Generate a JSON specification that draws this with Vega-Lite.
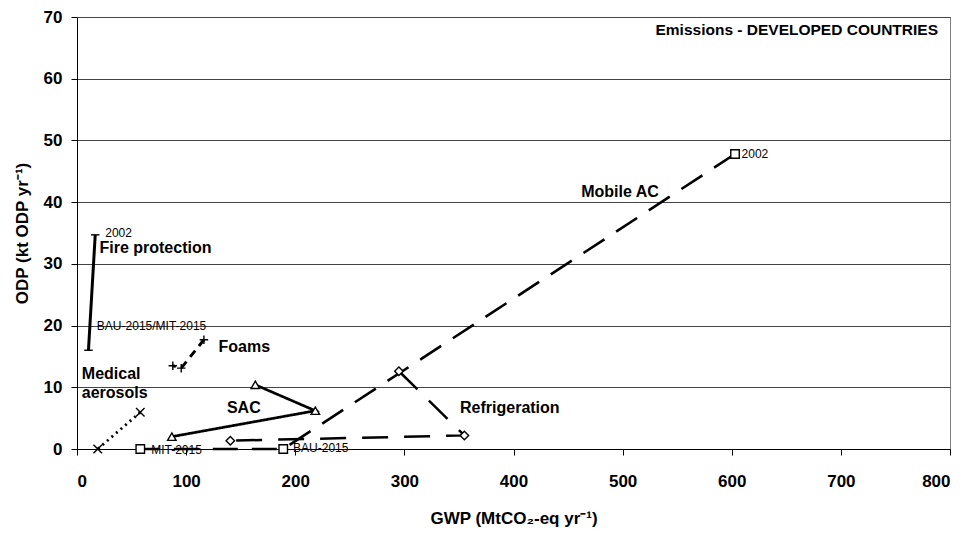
{
  "$schema": "https://vega.github.io/schema/vega-lite/v6.json",
  "autosize": "none",
  "width": 873,
  "height": 432,
  "padding": {"left": 77, "top": 17, "right": 21, "bottom": 84},
  "background": "white",
  "config": {
    "view": {"stroke": "#808080", "strokeWidth": 1},
    "font": "Liberation Sans",
    "axis": {
      "labelFont": "Liberation Sans", "labelFontSize": 17, "labelFontWeight": "bold", "labelColor": "black",
      "titleFont": "Liberation Sans", "titleFontSize": 17, "titleFontWeight": "bold", "titleColor": "black",
      "domainColor": "black", "tickColor": "black", "tickSize": 6
    }
  },
  "datasets": {
    "pts": [
      {"series": "Fire protection", "ord": 1, "gwp": 16.7, "odp": 34.7},
      {"series": "Fire protection", "ord": 2, "gwp": 10.5, "odp": 16.0},
      {"series": "Foams", "ord": 1, "gwp": 116.3, "odp": 17.7},
      {"series": "Foams", "ord": 2, "gwp": 95.5, "odp": 13.1},
      {"series": "Foams", "ord": 3, "gwp": 87.8, "odp": 13.5},
      {"series": "Medical aerosols", "ord": 1, "gwp": 58, "odp": 5.95},
      {"series": "Medical aerosols", "ord": 2, "gwp": 19, "odp": 0},
      {"series": "SAC", "ord": 1, "gwp": 163.4, "odp": 10.4},
      {"series": "SAC", "ord": 2, "gwp": 218.4, "odp": 6.2},
      {"series": "SAC", "ord": 3, "gwp": 86.9, "odp": 2.0},
      {"series": "Mobile AC", "ord": 1, "gwp": 603, "odp": 47.8},
      {"series": "Mobile AC", "ord": 2, "gwp": 189, "odp": 0},
      {"series": "Mobile AC", "ord": 3, "gwp": 58, "odp": 0},
      {"series": "Refrigeration", "ord": 1, "gwp": 295, "odp": 12.6},
      {"series": "Refrigeration", "ord": 2, "gwp": 355, "odp": 2.2},
      {"series": "Refrigeration", "ord": 3, "gwp": 140.5, "odp": 1.35}
    ],
    "labels": [
      {"text": "Emissions - DEVELOPED COUNTRIES", "kind": "title", "gwp": 789, "odp": 67.9},
      {"text": "Fire protection", "kind": "bold", "gwp": 20.6, "odp": 32.5},
      {"text": "Foams", "kind": "bold", "gwp": 129.7, "odp": 16.5},
      {"text": "Medical", "kind": "bold", "gwp": 4.4, "odp": 12.15},
      {"text": "aerosols", "kind": "bold", "gwp": 4.4, "odp": 9.0},
      {"text": "SAC", "kind": "bold", "gwp": 137.4, "odp": 6.6},
      {"text": "Mobile AC", "kind": "bold", "gwp": 462, "odp": 41.7},
      {"text": "Refrigeration", "kind": "bold", "gwp": 351, "odp": 6.7},
      {"text": "2002", "kind": "small", "gwp": 25.9, "odp": 35.0},
      {"text": "BAU-2015/MIT-2015", "kind": "small", "gwp": 18.2, "odp": 19.9},
      {"text": "MIT-2015", "kind": "small", "gwp": 68, "odp": -0.1},
      {"text": "BAU-2015", "kind": "small", "gwp": 198, "odp": 0.1},
      {"text": "2002", "kind": "small", "gwp": 609, "odp": 47.8}
    ]
  },
  "encoding": {
    "x": {"field": "gwp", "type": "quantitative", "scale": {"domain": [0, 800], "nice": false},
      "axis": {"values": [0, 100, 200, 300, 400, 500, 600, 700, 800], "grid": false, "labelPadding": 18, "titlePadding": 21,
        "title": "GWP (MtCO₂-eq yr⁻¹)"}},
    "y": {"field": "odp", "type": "quantitative", "scale": {"domain": [0, 70], "nice": false},
      "axis": {"values": [0, 10, 20, 30, 40, 50, 60, 70], "grid": true, "gridColor": "#444444", "gridWidth": 1, "labelPadding": 9, "titlePadding": 12,
        "title": "ODP (kt ODP yr⁻¹)"}}
  },
  "layer": [
    {
      "data": {"name": "pts"},
      "mark": {"type": "line", "color": "black", "strokeCap": "butt"},
      "encoding": {
        "detail": {"field": "series"},
        "order": {"field": "ord"},
        "strokeDash": {"field": "series", "type": "nominal", "legend": null,
          "scale": {"domain": ["Fire protection", "Foams", "Medical aerosols", "SAC", "Mobile AC", "Refrigeration"],
            "range": [[1, 0], [8, 6], [2, 4], [1, 0], [25, 14], [26, 16]]}},
        "strokeWidth": {"field": "series", "type": "nominal", "legend": null,
          "scale": {"domain": ["Fire protection", "Foams", "Medical aerosols", "SAC", "Mobile AC", "Refrigeration"],
            "range": [3, 2.5, 1, 4, 3.5, 4]}}
      }
    },
    {
      "data": {"name": "pts"},
      "mark": {"type": "point", "filled": false, "fill": "white", "fillOpacity": 1, "stroke": "black", "strokeWidth": 1.4, "opacity": 1},
      "encoding": {
        "shape": {"field": "series", "type": "nominal", "legend": null,
          "scale": {"domain": ["Fire protection", "Foams", "Medical aerosols", "SAC", "Mobile AC", "Refrigeration"],
            "range": ["M-1,0H1", "M-1,0H1M0,-1V1", "M-1,-1L1,1M-1,1L1,-1", "triangle-up", "square", "diamond"]}},
        "size": {"field": "series", "type": "nominal", "legend": null,
          "scale": {"domain": ["Fire protection", "Foams", "Medical aerosols", "SAC", "Mobile AC", "Refrigeration"],
            "range": [72, 72, 72, 75, 80, 65]}}
      }
    },
    {
      "data": {"name": "labels"},
      "transform": [{"filter": "datum.kind === 'bold'"}],
      "mark": {"type": "text", "align": "left", "baseline": "middle", "fontWeight": "bold", "fontSize": 16, "font": "Liberation Sans", "color": "black"},
      "encoding": {"text": {"field": "text"}}
    },
    {
      "data": {"name": "labels"},
      "transform": [{"filter": "datum.kind === 'title'"}],
      "mark": {"type": "text", "align": "right", "baseline": "middle", "fontWeight": "bold", "fontSize": 15.5, "font": "Liberation Sans", "color": "black"},
      "encoding": {"text": {"field": "text"}}
    },
    {
      "data": {"name": "labels"},
      "transform": [{"filter": "datum.kind === 'small'"}],
      "mark": {"type": "text", "align": "left", "baseline": "middle", "fontSize": 12, "font": "Liberation Sans", "color": "black"},
      "encoding": {"text": {"field": "text"}}
    }
  ]
}
